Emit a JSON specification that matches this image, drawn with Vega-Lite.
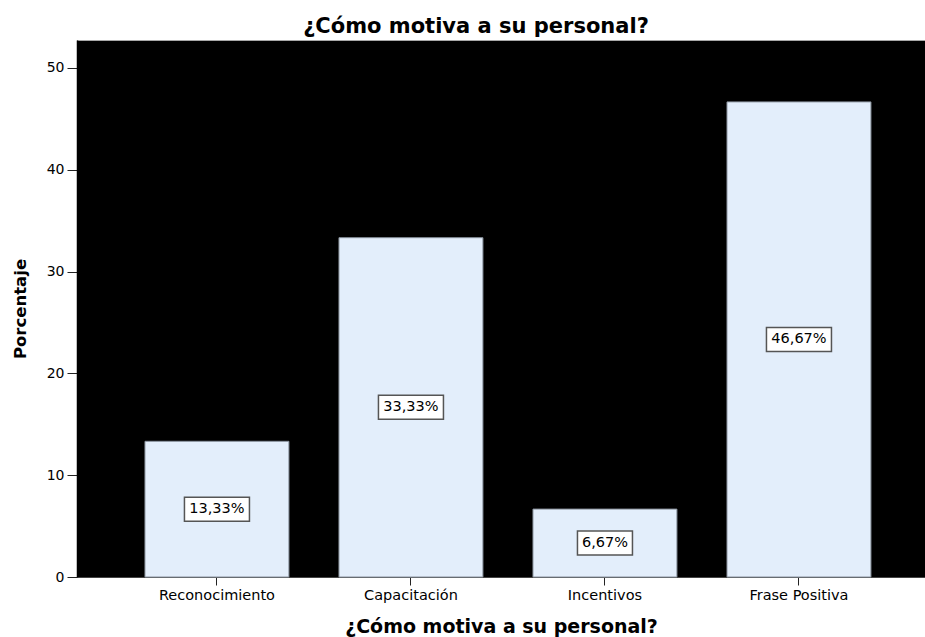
{
  "$schema": "https://vega.github.io/schema/vega-lite/v6.json",
  "width": 848,
  "height": 537,
  "autosize": {"type": "none"},
  "padding": {"left": 77, "top": 40, "right": 0, "bottom": 60},
  "background": "white",
  "title": {
    "text": "¿Cómo motiva a su personal?",
    "font": "DejaVu Sans",
    "fontWeight": "bold",
    "fontSize": 21,
    "color": "black",
    "anchor": "middle",
    "frame": "group",
    "baseline": "bottom",
    "offset": 3,
    "dx": -25,
    "dy": 21
  },
  "config": {
    "view": {"fill": "#000000", "stroke": "#a8a8a8", "strokeWidth": 1},
    "font": "DejaVu Sans"
  },
  "data": {
    "values": [
      {"cat": "Reconocimiento", "pct": 13.33, "label": "13,33%"},
      {"cat": "Capacitación", "pct": 33.33, "label": "33,33%"},
      {"cat": "Incentivos", "pct": 6.67, "label": "6,67%"},
      {"cat": "Frase Positiva", "pct": 46.67, "label": "46,67%"}
    ]
  },
  "encoding": {
    "x": {
      "field": "cat",
      "type": "nominal",
      "sort": null,
      "scale": {"paddingInner": 0.258, "paddingOuter": 0.3145, "align": 0.557},
      "axis": {
        "title": "¿Cómo motiva a su personal?",
        "titleFont": "DejaVu Sans",
        "titleFontWeight": "bold",
        "titleFontSize": 19,
        "titleColor": "black",
        "titlePadding": 16,
        "labelFont": "DejaVu Sans",
        "labelFontSize": 14.5,
        "labelColor": "black",
        "labelAngle": 0,
        "labelPadding": 3,
        "tickSize": 8,
        "tickColor": "#222",
        "domainColor": "#444",
        "domainWidth": 1
      }
    }
  },
  "layer": [
    {
      "mark": {"type": "bar", "fill": "#E3EEFB", "stroke": "#8a939e", "strokeWidth": 1},
      "encoding": {
        "y": {
          "field": "pct",
          "type": "quantitative",
          "scale": {"domain": [0, 52.75], "nice": false},
          "axis": {
            "title": "Porcentaje",
            "titleFont": "DejaVu Sans",
            "titleFontWeight": "bold",
            "titleFontSize": 16.5,
            "titleColor": "black",
            "titlePadding": 18,
            "values": [0, 10, 20, 30, 40, 50],
            "grid": false,
            "labelFont": "DejaVu Sans",
            "labelFontSize": 14,
            "labelColor": "black",
            "labelPadding": 3,
            "tickSize": 10,
            "tickColor": "#222",
            "domainColor": "#000",
            "domainWidth": 1.5
          }
        }
      }
    },
    {
      "transform": [{"calculate": "datum.pct / 2", "as": "mid"}],
      "mark": {"type": "point", "filled": true, "fill": "white", "stroke": "#555555", "strokeWidth": 1.5, "opacity": 1},
      "encoding": {
        "y": {"field": "mid", "type": "quantitative"},
        "shape": {
          "condition": {"test": "length(datum.label) > 5", "value": "M-1,-0.369L1,-0.369L1,0.369L-1,0.369Z"},
          "value": "M-1,-0.436L1,-0.436L1,0.436L-1,0.436Z"
        },
        "size": {
          "condition": {"test": "length(datum.label) > 5", "value": 4225},
          "value": 3025
        }
      }
    },
    {
      "transform": [{"calculate": "datum.pct / 2", "as": "mid"}],
      "mark": {"type": "text", "font": "DejaVu Sans", "fontSize": 14.5, "color": "black", "baseline": "middle", "align": "center"},
      "encoding": {
        "y": {"field": "mid", "type": "quantitative"},
        "text": {"field": "label"}
      }
    }
  ]
}
